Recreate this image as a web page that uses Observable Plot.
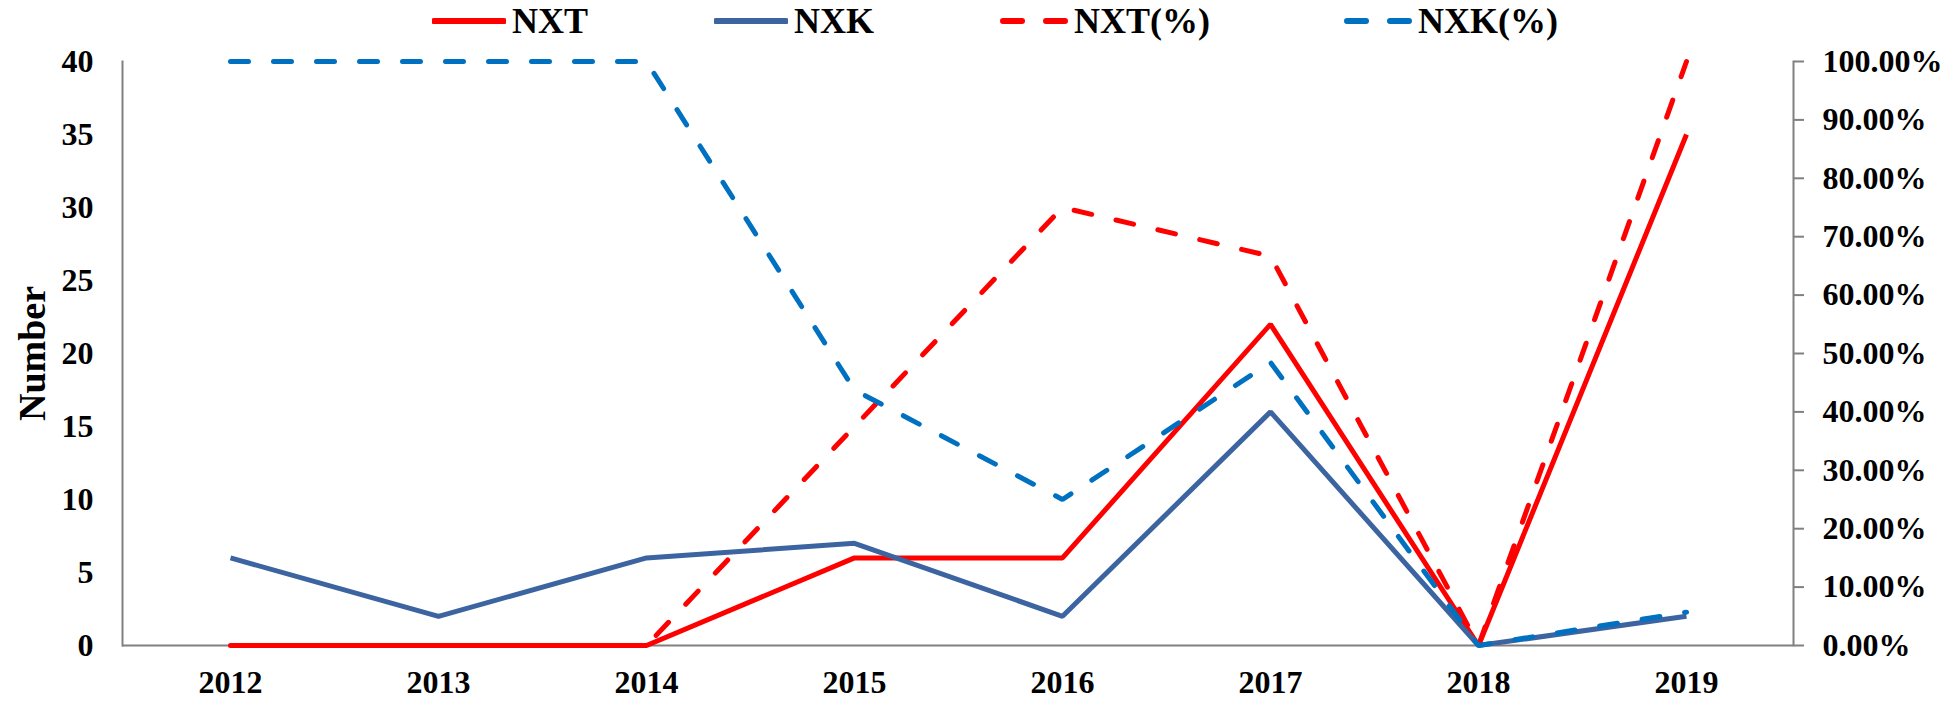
<!DOCTYPE html>
<html>
<head>
<meta charset="utf-8">
<script src="https://cdn.jsdelivr.net/npm/d3@7"></script>
<script src="https://cdn.jsdelivr.net/npm/@observablehq/plot@0.6"></script>
<style>
  html, body { margin: 0; padding: 0; background: #fff; }
  #wrap { width: 1950px; height: 701px; position: relative; overflow: hidden; }
  #legend { position: relative; width: 1950px; height: 42px; font-family: "Liberation Serif", "Times New Roman", serif; font-weight: bold; font-size: 36px; color: #000; }
  .item { position: absolute; top: 0; height: 42px; display: flex; align-items: center; white-space: nowrap; line-height: 42px; }
  .item svg { display: block; margin-right: 6px; }
</style>
</head>
<body>
<div id="wrap">
  <div id="legend"></div>
  <div id="chart"></div>
</div>
<script>
const years = ["2012","2013","2014","2015","2016","2017","2018","2019"];
const nxt = [0, 0, 0, 6, 6, 22, 0, 35];
const nxk = [6, 2, 6, 7, 2, 16, 0, 2];
const nxtPct = [0, 0, 0, 37.5, 75, 66.67, 0, 100];
const nxkPct = [100, 100, 100, 43.75, 25, 48.48, 0, 5.71];
const leftTicks = [0, 5, 10, 15, 20, 25, 30, 35, 40];
const rightTicks = [0, 10, 20, 30, 40, 50, 60, 70, 80, 90, 100];

const RED = "#FF0000", BLUE = "#3C64A0", BLUE2 = "#0070C0";
const yMax = 40, pctMax = 100;
const toLeft = p => p / pctMax * yMax;

const series = [
  {name: "NXT", values: nxt, color: RED, dash: null, pct: false},
  {name: "NXK", values: nxk, color: BLUE, dash: null, pct: false},
  {name: "NXT(%)", values: nxtPct, color: RED, dash: "18,25", pct: true},
  {name: "NXK(%)", values: nxkPct, color: BLUE2, dash: "18,25", pct: true}
];

// legend
const legendPos = [432, 714, 1000, 1344];
const legend = document.getElementById("legend");
series.forEach((s, i) => {
  const it = document.createElement("div");
  it.className = "item";
  it.style.left = legendPos[i] + "px";
  const sw = s.dash
    ? `<svg width="68" height="10"><line x1="3" y1="5" x2="65" y2="5" stroke="${s.color}" stroke-width="6" stroke-linecap="round" stroke-dasharray="19,24"/></svg>`
    : `<svg width="74" height="10"><line x1="2" y1="5" x2="72" y2="5" stroke="${s.color}" stroke-width="6" stroke-linecap="round"/></svg>`;
  it.innerHTML = sw + `<span>${s.name}</span>`;
  legend.appendChild(it);
});

const rows = [];
series.forEach(s => years.forEach((y, j) => rows.push({series: s.name, year: y, v: s.pct ? toLeft(s.values[j]) : s.values[j]})));

const marks = [
  Plot.ruleY([0], {stroke: "#808080", strokeWidth: 2}),
  Plot.frame({anchor: "left", stroke: "#808080", strokeWidth: 2}),
  Plot.frame({anchor: "right", stroke: "#808080", strokeWidth: 2}),
  Plot.axisX({tickSize: 0, tickPadding: 25, fontSize: 32, fontWeight: "bold", label: null}),
  Plot.axisY(leftTicks, {anchor: "left", tickSize: 0, tickPadding: 29, fontSize: 32, fontWeight: "bold",
    label: "Number", labelAnchor: "center", labelOffset: 104, labelArrow: "none"}),
  Plot.axisY(rightTicks.map(toLeft), {anchor: "right", tickSize: 10, tickPadding: 19, stroke: "#808080", strokeWidth: 2,
    fontSize: 32, fontWeight: "bold", textAnchor: "start",
    tickFormat: d => (d / yMax * pctMax).toFixed(2) + "%", label: null})
];
series.forEach(s => {
  marks.push(Plot.lineY(rows.filter(r => r.series === s.name), {
    x: "year", y: "v", stroke: s.color, strokeWidth: 5,
    strokeDasharray: s.dash || undefined,
    strokeLinecap: s.dash ? "round" : "butt",
    strokeLinejoin: "miter"
  }));
});

const chart = Plot.plot({
  width: 1950,
  height: 659,
  marginLeft: 122,
  marginRight: 157,
  marginTop: 19,
  marginBottom: 56,
  style: {fontFamily: "Liberation Serif, Times New Roman, serif", color: "#000", background: "#fff", overflow: "visible"},
  x: {type: "point", domain: years, padding: 0.5},
  y: {domain: [0, yMax]},
  marks
});
chart.querySelectorAll('g[aria-label="y-axis label"] text').forEach(t => { t.setAttribute("font-size", "38"); t.setAttribute("font-weight", "bold"); });
document.getElementById("chart").appendChild(chart);
</script>
</body>
</html>
